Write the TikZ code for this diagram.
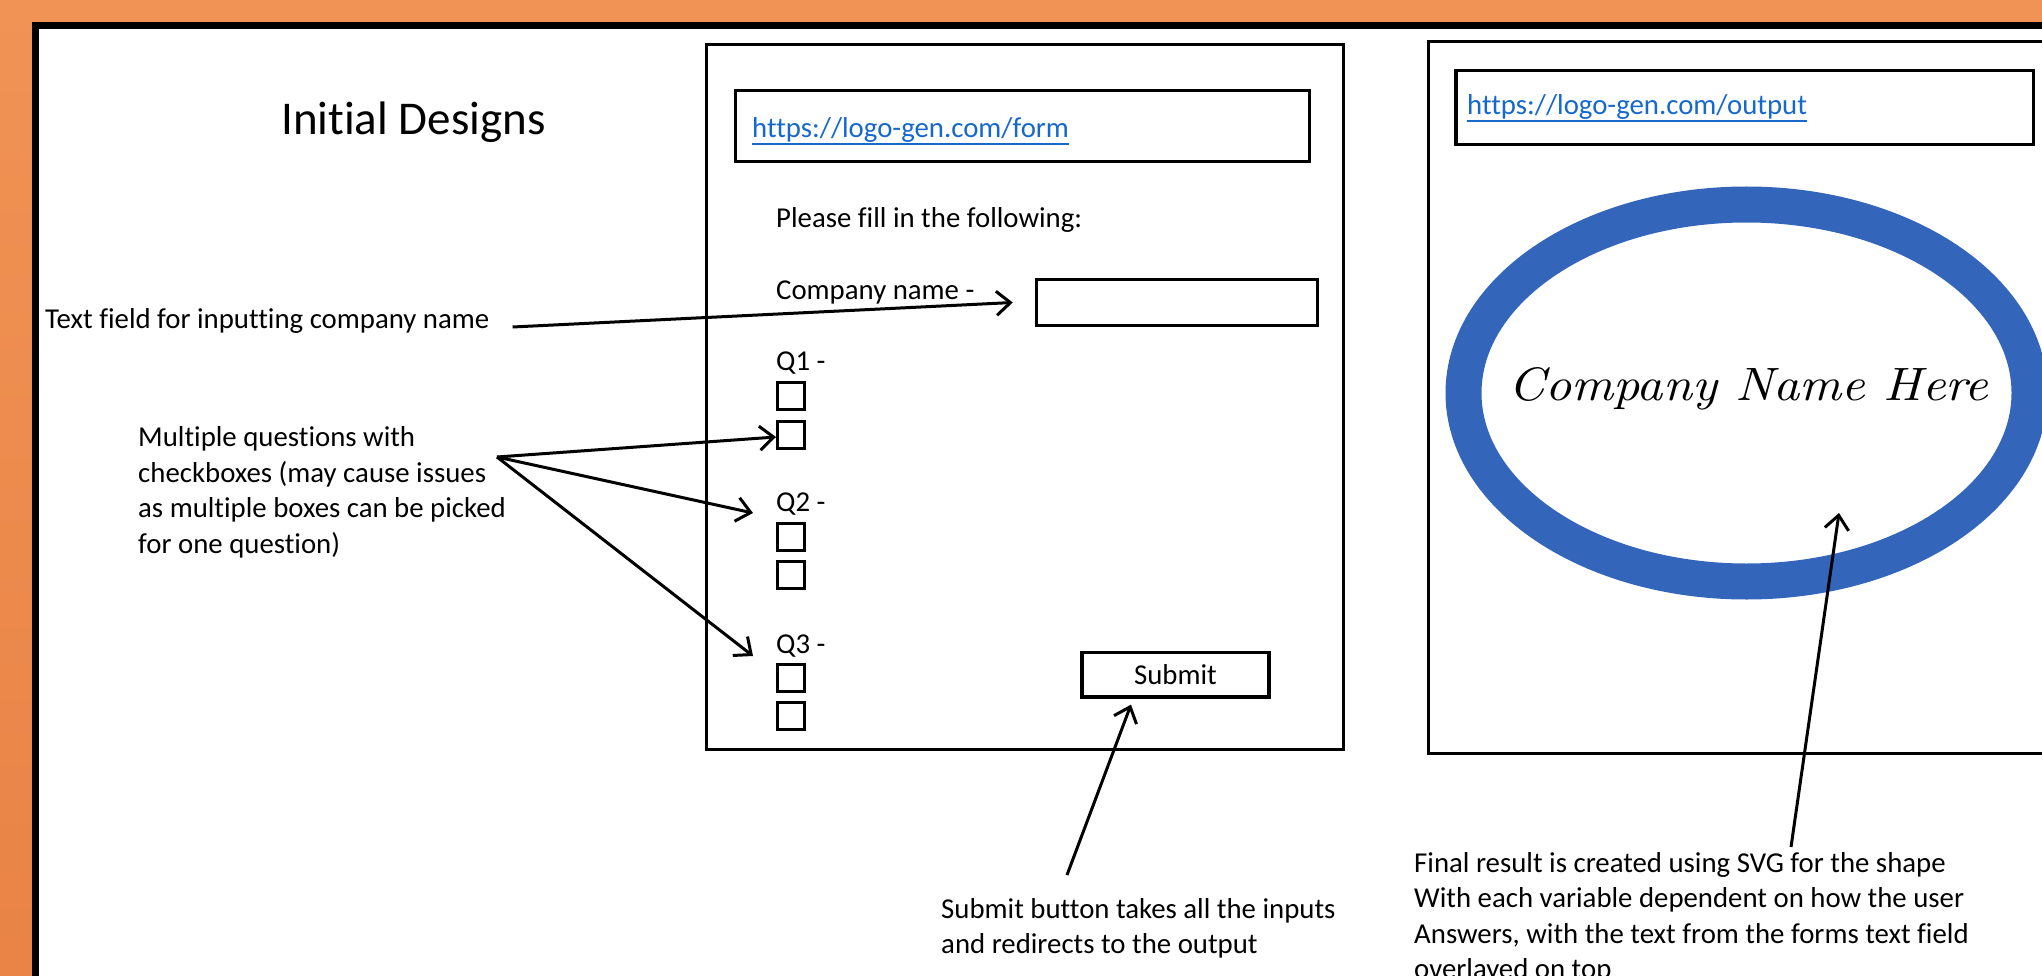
\documentclass[tikz,border=0pt]{standalone}
\usepackage{graphicx}
\usepackage{fontspec}
\setmainfont{Carlito}[Ligatures=NoCommon]
\newfontfamily\handfont{Latin Modern Roman}
\usetikzlibrary{arrows.meta}
\definecolor{bgtop}{RGB}{240,147,84}
\definecolor{bgbot}{RGB}{233,131,70}
\definecolor{urlc}{RGB}{22,104,204}
\definecolor{ringc}{RGB}{51,101,186}
\newcommand{\bodyfont}{\fontsize{28.8}{35.5}\selectfont}
\begin{document}
\begin{tikzpicture}[x=1pt,y=-1pt,
  txt/.style={inner sep=0pt, anchor=base west, font=\bodyfont},
  box/.style={draw, line width=3.5pt, inner sep=0pt},
  chk/.style={draw, line width=3pt, minimum width=27pt, minimum height=27pt, inner sep=0pt},
  arr/.style={line width=3pt, -{Straight Barb[length=14pt,width=24pt]}},
  ulink/.style={urlc, line width=1.6pt},
]
\useasboundingbox (0,0) rectangle (2042,976);
\clip (0,0) rectangle (2042,976);
\shade[top color=bgtop, bottom color=bgbot] (0,0) rectangle (2042,976);
\draw[line width=7pt, fill=white] (35.5,25.5) rectangle (2150,1100);

% title
\node[txt, font=\fontsize{47}{56}\selectfont] (title) at (281,135) {Initial Designs};

% form page
\node[box, minimum width=637pt, minimum height=705pt] (formbox) at (1024.75,397) {};
\node[box, minimum width=574pt, minimum height=71pt] (urlbox1) at (1022.7,126) {};
\node[txt, text=urlc] (url1) at (752,138) {https://logo-gen.com/form};
\draw[ulink] ([yshift=-6pt]url1.base west) -- ([yshift=-6pt]url1.base east);
\node[txt] (please) at (776,228) {Please fill in the following:};
\node[txt] (cnl) at (776,299) {Company name -};
\node[box, minimum width=281pt, minimum height=46pt] (cname) at (1177,302.5) {};
\node[txt] (q1) at (776,370) {Q1 -};
\node[chk] (q1a) at (791,396) {};
\node[chk] (q1b) at (791,434.5) {};
\node[txt] (q2) at (776,511) {Q2 -};
\node[chk] (q2a) at (791,537) {};
\node[chk] (q2b) at (791,575) {};
\node[txt] (q3) at (776,653) {Q3 -};
\node[chk] (q3a) at (791,678) {};
\node[chk] (q3b) at (791,716) {};
\node[box, minimum width=187pt, minimum height=44.5pt, font=\bodyfont] (submit) at (1175.5,674.6) {Submit};

% output page
\node[box, minimum width=680pt, minimum height=711.6pt] (outbox) at (1768.5,397.5) {};
\node[box, minimum width=577.5pt, minimum height=73.8pt] (urlbox2) at (1744.75,107.6) {};
\node[txt, text=urlc] (url2) at (1467,115) {https://logo-gen.com/output};
\draw[ulink] ([yshift=-6pt]url2.base west) -- ([yshift=-6pt]url2.base east);
\coordinate (logoc) at (1746.5,393);
\draw[ringc, line width=36pt] (logoc) ellipse [x radius=283pt, y radius=188.5pt];
\node[inner sep=0pt, anchor=base west] (cnh) at (1508,400) {\resizebox{480pt}{33pt}{\handfont\itshape Company Name Here}};

% annotations
\node[txt] (tf) at (45,328) {Text field for inputting company name};
\draw[arr] ([xshift=23pt,yshift=1pt]tf.base east) -- ([xshift=-22pt]cname.west);

\node[txt] (mq) at (138,446.5) {\begin{tabular}[t]{@{}l@{}}Multiple questions with\\checkboxes (may cause issues\\as multiple boxes can be picked\\for one question)\end{tabular}};
\coordinate (mqo) at (497,457);
\draw[arr] (mqo) -- ([yshift=-2.5pt]q1b.west);
\draw[arr] (mqo) -- ([xshift=-23pt,yshift=-2pt]q2.base west);
\draw[arr] (mqo) -- ([xshift=-23pt,yshift=-3pt]q3.base west);

\node[txt] (subcap) at (941,918) {\begin{tabular}[t]{@{}l@{}}Submit button takes all the inputs\\and redirects to the output\end{tabular}};
\coordinate (subtail) at (1067,875);
\draw[arr] (subtail) -- ([xshift=-44.5pt,yshift=-6pt]submit.south);

\node[txt] (final) at (1414,872) {\begin{tabular}[t]{@{}l@{}}Final result is created using SVG for the shape\\With each variable dependent on how the user\\Answers, with the text from the forms text field\\overlayed on top\end{tabular}};
\coordinate (fintail) at (1791,847);
\draw[arr] (fintail) -- ([xshift=92.5pt,yshift=-120pt]logoc);
\end{tikzpicture}
\end{document}
